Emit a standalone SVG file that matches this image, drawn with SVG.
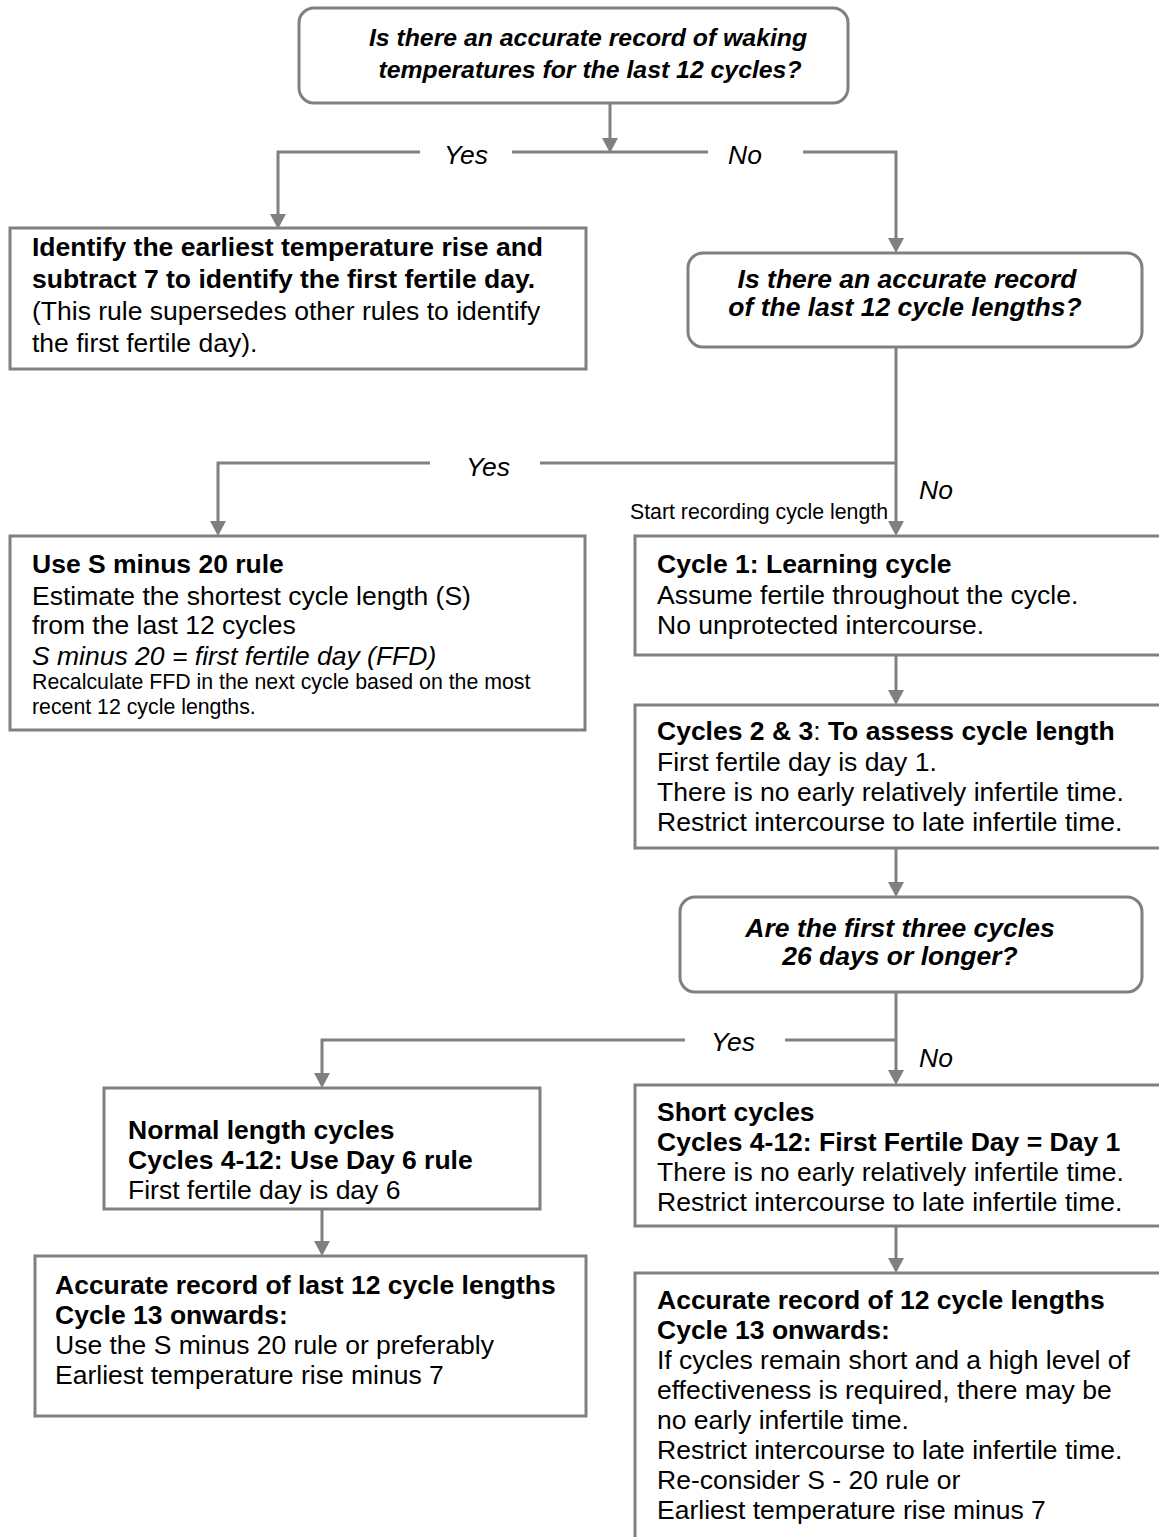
<svg xmlns="http://www.w3.org/2000/svg" width="1159" height="1537" viewBox="0 0 1159 1537">
<defs>
<style>
.box{fill:#fff;stroke:#808080;stroke-width:3}
.ln{fill:none;stroke:#808080;stroke-width:3}
.hd{fill:#808080;stroke:none}
text{font-family:"Liberation Sans",Arial,sans-serif;font-size:26.5px;fill:#000}
.b{font-weight:bold}
.i{font-style:italic}
.bi{font-weight:bold;font-style:italic}
.c{text-anchor:middle}
.s{font-size:21.3px}
.q1{font-size:24.8px}
</style>
</defs>
<rect width="1159" height="1537" fill="#fff"/>
<g id="connectors">
<path class="ln" d="M610 103V140"/>
<path class="hd" d="M602 138H618L610 153Z"/>
<path class="ln" d="M278 218V152H420M512 152H708M803 152H896V242"/>
<path class="hd" d="M270 214H286L278 229Z"/>
<path class="hd" d="M888 238H904L896 253Z"/>
<path class="ln" d="M896 347V524"/>
<path class="ln" d="M218 525V463H430M540 463H896"/>
<path class="hd" d="M210 521H226L218 536Z"/>
<path class="hd" d="M888 521H904L896 536Z"/>
<path class="ln" d="M896 655V694"/>
<path class="hd" d="M888 690H904L896 705Z"/>
<path class="ln" d="M896 848V886"/>
<path class="hd" d="M888 882H904L896 897Z"/>
<path class="ln" d="M896 992V1074"/>
<path class="ln" d="M322 1077V1040H685M785 1040H896"/>
<path class="hd" d="M314 1073H330L322 1088Z"/>
<path class="hd" d="M888 1070H904L896 1085Z"/>
<path class="ln" d="M322 1209V1245"/>
<path class="hd" d="M314 1241H330L322 1256Z"/>
<path class="ln" d="M896 1226V1262"/>
<path class="hd" d="M888 1258H904L896 1273Z"/>
</g>
<g id="labels">
<text class="i c" x="466" y="164">Yes</text>
<text class="i c" x="745" y="164">No</text>
<text class="i c" x="488" y="476">Yes</text>
<text class="i" x="919" y="499">No</text>
<text class="s" x="888" y="519" text-anchor="end">Start recording cycle length</text>
<text class="i c" x="733" y="1051">Yes</text>
<text class="i" x="919" y="1067">No</text>
</g>
<g id="q1">
<rect class="box" x="299" y="8" width="549" height="95" rx="15"/>
<text class="bi c q1" x="588" y="46">Is there an accurate record of waking</text>
<text class="bi c q1" x="590" y="78">temperatures for the last 12 cycles?</text>
</g>
<g id="identify">
<rect class="box" x="10" y="228" width="576" height="141"/>
<text class="b" x="32" y="256">Identify the earliest temperature rise and</text>
<text class="b" x="32" y="288">subtract 7 to identify the first fertile day.</text>
<text x="32" y="320">(This rule supersedes other rules to identify</text>
<text x="32" y="352">the first fertile day).</text>
</g>
<g id="q2">
<rect class="box" x="688" y="253" width="454" height="94" rx="15"/>
<text class="bi c" x="907" y="288">Is there an accurate record</text>
<text class="bi c" x="905" y="316">of the last 12 cycle lengths?</text>
</g>
<g id="s20">
<rect class="box" x="10" y="536" width="575" height="194"/>
<text class="b" x="32" y="573">Use S minus 20 rule</text>
<text x="32" y="605">Estimate the shortest cycle length (S)</text>
<text x="32" y="634">from the last 12 cycles</text>
<text class="i" x="32" y="665">S minus 20 = first fertile day (FFD)</text>
<text class="s" x="32" y="689">Recalculate FFD in the next cycle based on the most</text>
<text class="s" x="32" y="714">recent 12 cycle lengths.</text>
</g>
<g id="cycle1">
<rect class="box" x="635" y="536" width="540" height="119"/>
<text class="b" x="657" y="573">Cycle 1: Learning cycle</text>
<text x="657" y="604">Assume fertile throughout the cycle.</text>
<text x="657" y="634">No unprotected intercourse.</text>
</g>
<g id="cycle23">
<rect class="box" x="635" y="705" width="540" height="143"/>
<text x="657" y="740"><tspan class="b">Cycles 2 &amp; 3</tspan>: <tspan class="b">To assess cycle length</tspan></text>
<text x="657" y="771">First fertile day is day 1.</text>
<text x="657" y="801">There is no early relatively infertile time.</text>
<text x="657" y="831">Restrict intercourse to late infertile time.</text>
</g>
<g id="q3">
<rect class="box" x="680" y="897" width="462" height="95" rx="15"/>
<text class="bi c" x="900" y="937">Are the first three cycles</text>
<text class="bi c" x="900" y="965">26 days or longer?</text>
</g>
<g id="normal">
<rect class="box" x="104" y="1088" width="436" height="121"/>
<text class="b" x="128" y="1139">Normal length cycles</text>
<text class="b" x="128" y="1169">Cycles 4-12: Use Day 6 rule</text>
<text x="128" y="1199">First fertile day is day 6</text>
</g>
<g id="acc-left">
<rect class="box" x="35" y="1256" width="551" height="160"/>
<text class="b" x="55" y="1294">Accurate record of last 12 cycle lengths</text>
<text class="b" x="55" y="1324">Cycle 13 onwards:</text>
<text x="55" y="1354">Use the S minus 20 rule or preferably</text>
<text x="55" y="1384">Earliest temperature rise minus 7</text>
</g>
<g id="short">
<rect class="box" x="635" y="1085" width="540" height="141"/>
<text class="b" x="657" y="1121">Short cycles</text>
<text class="b" x="657" y="1151">Cycles 4-12: First Fertile Day = Day 1</text>
<text x="657" y="1181">There is no early relatively infertile time.</text>
<text x="657" y="1211">Restrict intercourse to late infertile time.</text>
</g>
<g id="acc-right">
<rect class="box" x="635" y="1273" width="540" height="290"/>
<text class="b" x="657" y="1309">Accurate record of 12 cycle lengths</text>
<text class="b" x="657" y="1339">Cycle 13 onwards:</text>
<text x="657" y="1369">If cycles remain short and a high level of</text>
<text x="657" y="1399">effectiveness is required, there may be</text>
<text x="657" y="1429">no early infertile time.</text>
<text x="657" y="1459">Restrict intercourse to late infertile time.</text>
<text x="657" y="1489">Re-consider S - 20 rule or</text>
<text x="657" y="1519">Earliest temperature rise minus 7</text>
</g>
</svg>
